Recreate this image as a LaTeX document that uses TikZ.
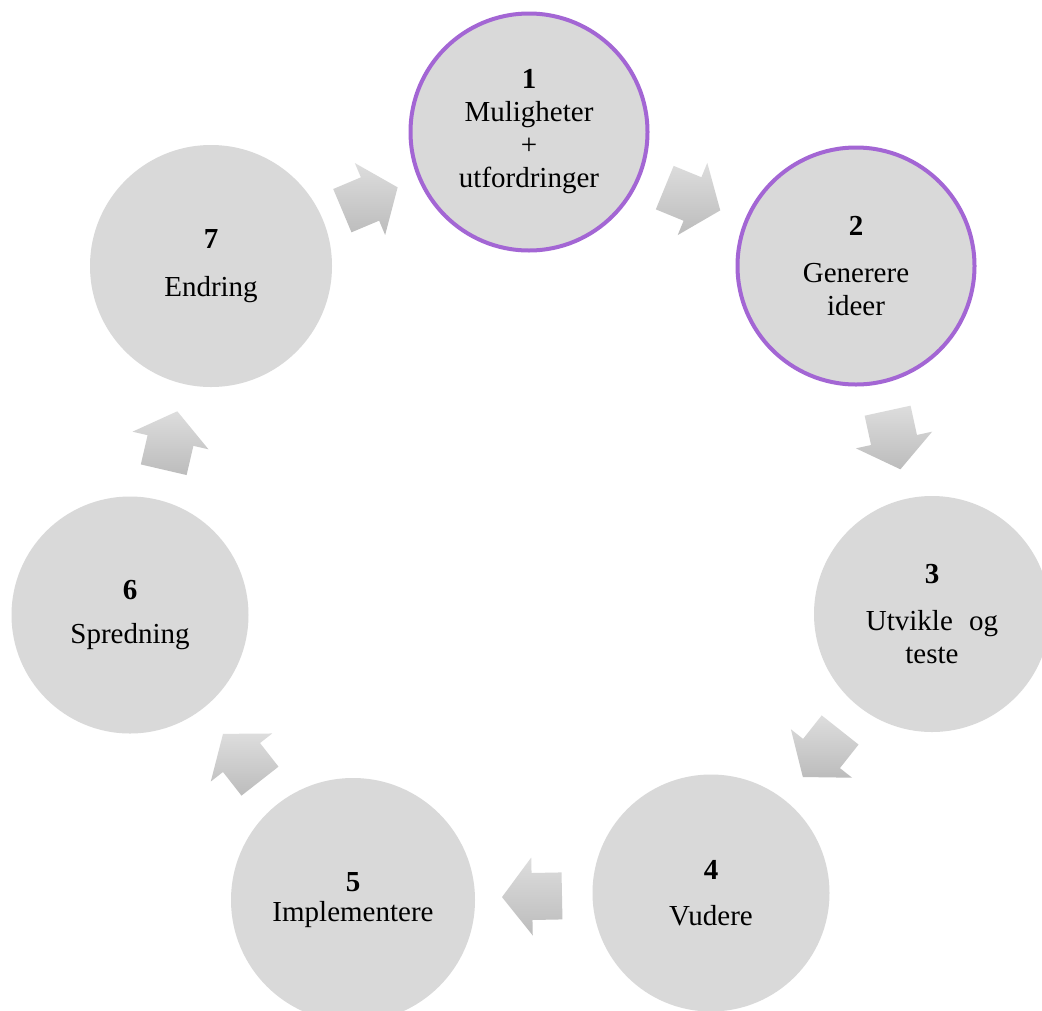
\documentclass[tikz,border=0pt]{standalone}
\usepackage{fontspec}
\setmainfont{Liberation Serif}
\usetikzlibrary{calc}
\definecolor{cfill}{RGB}{217,217,217}
\definecolor{cpurple}{RGB}{163,102,212}
\definecolor{atop}{RGB}{221,221,221}
\definecolor{abot}{RGB}{188,188,188}
\newcommand\cyclearrow[2]{%
  \coordinate (m#1#2) at ($(#1.center)!0.5!(#2.center)$);
  \shade[top color=atop, bottom color=abot]
    ($(m#1#2)!30pt!0:(#2.center)$)
    -- ($(m#1#2)!39pt!90:(#2.center)$)
    -- ($(m#1#2)!23.5pt!90:(#2.center)$)
    -- ($(m#1#2)!38.11pt!141.93:(#2.center)$)
    -- ($(m#1#2)!38.11pt!218.07:(#2.center)$)
    -- ($(m#1#2)!23.5pt!270:(#2.center)$)
    -- ($(m#1#2)!39pt!270:(#2.center)$)
    -- cycle;
}
\tikzset{
  stage/.style={circle, fill=cfill, minimum size=240pt, inner sep=0pt,
    align=center, font=\fontsize{29}{33}\selectfont},
  hl/.style={draw=cpurple, line width=4pt, minimum size=237pt}
}
\begin{document}
\begin{tikzpicture}[x=1pt, y=-1pt]
\clip (0,0) rectangle (1042,1010);
\fill[white] (0,0) rectangle (1042,1010);
\node[stage, hl] (n1) at (529,132) {\textbf{1}\\Muligheter\\+\\utfordringer};
\node[stage, hl] (n2) at (856,266) {\textbf{2}\\[14pt]Generere\\ideer};
\node[stage, minimum size=236pt] (n3) at (932,614) {\textbf{3}\\[14pt]Utvikle\hspace{9pt} og\\teste};
\node[stage, minimum size=237pt] (n4) at (711,893) {\textbf{4}\\[13pt]Vudere};
\node[stage, minimum size=244pt] (n5) at (353,900) {\textbf{5}\\[-3pt]Implementere};
\node[stage, minimum size=237pt] (n6) at (130,615) {\textbf{6}\\[11pt]Spredning};
\node[stage, minimum size=242pt] (n7) at (211,266) {\textbf{7}\\[15pt]Endring};
\cyclearrow{n1}{n2}
\cyclearrow{n2}{n3}
\cyclearrow{n3}{n4}
\cyclearrow{n4}{n5}
\cyclearrow{n5}{n6}
\cyclearrow{n6}{n7}
\cyclearrow{n7}{n1}
\end{tikzpicture}
\end{document}
